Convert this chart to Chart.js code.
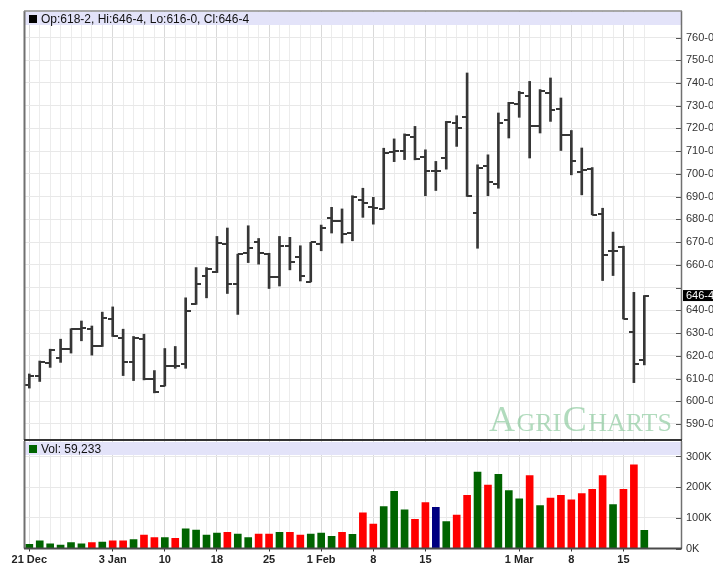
<!DOCTYPE html>
<html>
<head>
<meta charset="utf-8">
<script src="https://cdn.jsdelivr.net/npm/chart.js@4.4.1/dist/chart.umd.min.js"></script>
<style>
  body { margin: 0; background: #fff; width: 713px; height: 563px; overflow: hidden; position: relative; }
  canvas { position: absolute; left: 0; }
  #price { top: 0; }
  #vol { top: 441px; }
</style>
</head>
<body>
<canvas id="price" width="713" height="441"></canvas>
<canvas id="vol" width="713" height="122"></canvas>
<script>
// tanggal minggu pada sumbu bawah (indeks bar + teks)
const tickAt = [0, 8, 13, 18, 23, 28, 33, 38, 47, 52, 57];
const tickText = ['21 Dec', '3 Jan', '10', '18', '25', '1 Feb', '8', '15', '1 Mar', '8', '15'];

// harga harian (sen/bushel)
const openP = [607.2, 610.9, 616.8, 618.9, 622.9, 631.7, 631.7, 624.4, 636.0, 628.0,
  617.1, 627.6, 609.6, 606.9, 615.7, 616.4, 642.8, 655.1, 656.9, 669.1,
  651.5, 665.4, 669.9, 664.7, 654.7, 668.4, 663.5, 652.5, 669.1, 680.4,
  679.4, 674.0, 688.5, 685.6, 684.6, 709.6, 709.9, 716.2, 707.4, 701.1,
  707.0, 722.4, 725.0, 682.7, 703.3, 695.7, 723.6, 730.9, 734.4, 720.9,
  735.6, 728.5, 717.2, 700.8, 702.1, 682.4, 666.0, 667.8, 630.3, 618.25];
const highP = [612.0, 617.7, 622.9, 627.3, 631.9, 635.3, 633.1, 639.2, 641.5, 631.7,
  628.5, 629.5, 613.5, 623.2, 624.1, 645.5, 658.8, 658.8, 672.5, 676.2,
  664.7, 677.2, 671.6, 665.1, 672.5, 672.1, 668.4, 669.9, 677.5, 685.3,
  684.6, 690.4, 693.7, 689.7, 711.3, 715.4, 717.6, 720.9, 710.6, 705.5,
  723.1, 725.6, 744.4, 704.0, 708.4, 726.8, 731.5, 736.3, 740.7, 737.1,
  742.2, 733.4, 719.1, 711.4, 702.8, 684.9, 674.4, 668.2, 647.9, 646.5];
const lowP = [605.8, 608.7, 614.9, 617.1, 621.2, 626.6, 620.3, 624.1, 628.5, 611.3,
  609.1, 609.4, 603.7, 606.7, 614.5, 614.5, 642.6, 645.5, 656.6, 647.4,
  638.2, 661.0, 660.3, 649.6, 650.7, 657.8, 652.9, 652.5, 666.2, 674.0,
  669.6, 670.6, 680.9, 677.9, 684.6, 705.4, 706.3, 706.2, 690.4, 692.7,
  702.1, 712.1, 690.1, 667.3, 690.4, 693.7, 715.8, 724.9, 707.0, 718.0,
  723.1, 710.3, 699.6, 690.8, 682.0, 653.1, 655.3, 636.2, 608.2, 616.0];
const closeP = [610.9, 617.1, 622.4, 623.2, 631.7, 632.4, 624.4, 636.7, 628.8, 617.1,
  628.0, 609.9, 604.0, 615.7, 615.4, 639.7, 651.6, 658.2, 669.6, 651.5,
  664.7, 667.2, 665.1, 654.7, 668.1, 661.3, 655.1, 669.9, 676.2, 679.4,
  673.5, 690.0, 687.2, 684.9, 709.1, 709.9, 717.2, 706.5, 701.1, 701.1,
  722.8, 720.2, 690.1, 702.6, 696.4, 722.4, 731.2, 735.6, 721.2, 736.3,
  728.3, 717.2, 705.8, 701.8, 682.0, 664.4, 666.3, 636.2, 616.3, 646.5];

// volume (ribuan kontrak) dan arah perubahan harga: 1 naik, -1 turun, 0 tetap
const volK = [14, 25, 15, 11, 19, 15, 19, 21, 25, 25,
  29, 44, 36, 36, 33, 64, 60, 44, 50, 53,
  47, 36, 47, 47, 53, 53, 44, 47, 50, 40,
  53, 46, 116, 80, 137, 186, 126, 95, 150, 134,
  88, 109, 173, 249, 207, 242, 189, 162, 238, 140,
  164, 173, 159, 179, 193, 238, 143, 193, 273, 59.233];
const volDir = [1, 1, 1, 1, 1, 1, -1, 1, -1, -1,
  1, -1, -1, 1, -1, 1, 1, 1, 1, -1,
  1, 1, -1, -1, 1, -1, -1, 1, 1, 1,
  -1, 1, -1, -1, 1, 1, 1, -1, -1, 0,
  1, -1, -1, 1, -1, 1, 1, 1, -1, 1,
  -1, -1, -1, -1, -1, -1, 1, -1, -1, 1];

const headerText = 'Op:618-2, Hi:646-4, Lo:616-0, Cl:646-4';
const volText = 'Vol: 59,233';
const lastText = '646-4';

const X_MIN = -0.51, X_MAX = 62.52;
const FONT = 'Liberation Sans, Arial, sans-serif';
const BAR_CLR = '#363636';

function tickImg(side) {
  const c = document.createElement('canvas');
  c.width = 10; c.height = 2;
  const g = c.getContext('2d');
  g.fillStyle = BAR_CLR;
  g.fillRect(side < 0 ? 0 : 5, 0, 5, 2);
  return c;
}

const gridX = c => tickAt.includes(c.tick && c.tick.value) ? '#d9d9d9' : '#ececec';

// sumbu kanan lebar tetap, tanpa ruang tambahan atas/bawah
function fitRight(s) {
  s.width = 32;
  s.paddingTop = 0;
  s.paddingBottom = 0;
}

// garis tepi, pita judul, watermark
const panelPlugin = {
  id: 'panel',
  beforeDatasetsDraw(chart, args, opts) {
    const ctx = chart.ctx, a = chart.chartArea;
    ctx.save();
    if (opts.mark) {
      ctx.fillStyle = 'rgba(125, 195, 145, 0.6)';
      ctx.textBaseline = 'alphabetic';
      let x = 489;
      const parts = [['A', 36], ['GRI', 26], ['C', 36], ['HARTS', 26]];
      parts.forEach(p => {
        ctx.font = p[1] + 'px Liberation Serif, serif';
        ctx.fillText(p[0], x, 431);
        x += ctx.measureText(p[0]).width + 1.5;
      });
    }
    ctx.fillStyle = '#e3e3f9';
    ctx.fillRect(a.left + 1, a.top + 1, a.right - a.left - 1, 13);
    ctx.fillStyle = opts.sq;
    ctx.fillRect(29, a.top + 4, 8, 8);
    ctx.fillStyle = '#111';
    ctx.font = '12px ' + FONT;
    ctx.textBaseline = 'middle';
    ctx.fillText(opts.text, 41, a.top + 8.5);
    ctx.restore();
  },
  afterDraw(chart, args, opts) {
    const ctx = chart.ctx, a = chart.chartArea, y = chart.scales.y;
    ctx.save();
    ctx.strokeStyle = '#555';
    ctx.lineWidth = 1;
    y.ticks.forEach(t => {
      const py = Math.round(y.getPixelForValue(t.value)) + 0.5;
      ctx.beginPath(); ctx.moveTo(a.right - 5, py); ctx.lineTo(a.right, py); ctx.stroke();
    });
    ctx.strokeStyle = '#707070'; ctx.lineWidth = 2;
    ctx.beginPath(); ctx.moveTo(24.5, opts.top ? a.top : 0); ctx.lineTo(24.5, a.bottom); ctx.stroke();
    ctx.lineWidth = 1.5;
    ctx.beginPath(); ctx.moveTo(a.right + 0.5, opts.top ? a.top : 0); ctx.lineTo(a.right + 0.5, a.bottom); ctx.stroke();
    if (opts.top) {
      ctx.strokeStyle = '#8a8a8a';
      ctx.beginPath(); ctx.moveTo(24, a.top); ctx.lineTo(a.right + 1, a.top); ctx.stroke();
      ctx.strokeStyle = '#333'; ctx.lineWidth = 2;
      ctx.beginPath(); ctx.moveTo(24, a.bottom); ctx.lineTo(a.right + 1, a.bottom); ctx.stroke();
      // kotak harga terakhir
      const py = y.getPixelForValue(closeP[closeP.length - 1]);
      ctx.fillStyle = '#000';
      ctx.fillRect(a.right + 2, py - 5.5, 40, 11);
      ctx.fillStyle = '#fff';
      ctx.font = '11px ' + FONT;
      ctx.textBaseline = 'middle';
      ctx.fillText(lastText, a.right + 5, py + 0.5);
    } else {
      ctx.strokeStyle = '#4a4a4a'; ctx.lineWidth = 2;
      ctx.beginPath(); ctx.moveTo(24, a.bottom); ctx.lineTo(a.right + 1, a.bottom); ctx.stroke();
    }
    ctx.restore();
  }
};

const idx = highP.map((_, i) => i);

new Chart(document.getElementById('price'), {
  type: 'bar',
  data: {
    datasets: [
      {
        type: 'bar',
        data: idx.map(i => ({ x: i, y: [lowP[i], highP[i]] })),
        backgroundColor: BAR_CLR,
        barThickness: 2,
        order: 2
      },
      {
        type: 'line', showLine: false,
        data: idx.map(i => ({ x: i, y: openP[i] })),
        pointStyle: tickImg(-1), pointRadius: 3, order: 1
      },
      {
        type: 'line', showLine: false,
        data: idx.map(i => ({ x: i, y: closeP[i] })),
        pointStyle: tickImg(1), pointRadius: 3, order: 1
      }
    ]
  },
  options: {
    responsive: false, animation: false, devicePixelRatio: 1,
    layout: { autoPadding: false, padding: { left: 24, top: 11, right: 0, bottom: 1 } },
    plugins: {
      legend: { display: false }, tooltip: { enabled: false },
      panel: { text: headerText, sq: '#000', mark: true, top: true }
    },
    scales: {
      x: {
        type: 'linear', min: X_MIN, max: X_MAX, offset: false,
        afterBuildTicks: s => { s.ticks = idx.map(i => ({ value: i })); },
        afterFit: s => { s.height = 0; s.paddingLeft = 0; s.paddingRight = 0; },
        ticks: { display: false },
        grid: { color: gridX, drawTicks: false, offset: false },
        border: { display: false }
      },
      y: {
        position: 'right', min: 582.96, max: 771.66,
        afterBuildTicks: s => { s.ticks = s.ticks.filter(t => t.value >= 590 && t.value <= 760 && Math.round(t.value) % 10 === 0); },
        afterFit: fitRight,
        ticks: {
          stepSize: 10, padding: 5, color: '#333', font: { family: FONT, size: 11 },
          callback: v => Math.round(v) === 650 ? '' : Math.round(v) + '-0'
        },
        grid: { color: '#e8e8e8', drawTicks: false },
        border: { display: false }
      }
    }
  },
  plugins: [panelPlugin]
});

new Chart(document.getElementById('vol'), {
  type: 'bar',
  data: {
    datasets: [{
      data: idx.map(i => ({ x: i, y: volK[i] })),
      backgroundColor: volDir.map(d => d > 0 ? '#006400' : d < 0 ? '#ff0000' : '#000080'),
      barThickness: 7
    }]
  },
  options: {
    responsive: false, animation: false, devicePixelRatio: 1,
    layout: { autoPadding: false, padding: { left: 24, top: 0, right: 0, bottom: 0 } },
    plugins: {
      legend: { display: false }, tooltip: { enabled: false },
      panel: { text: volText, sq: '#006400', mark: false, top: false }
    },
    scales: {
      x: {
        type: 'linear', min: X_MIN, max: X_MAX, offset: false,
        afterBuildTicks: s => { s.ticks = idx.map(i => ({ value: i })); },
        afterFit: s => { s.height = 14.5; s.paddingLeft = 0; s.paddingRight = 0; },
        ticks: {
          autoSkip: false, maxRotation: 0, minRotation: 0, padding: 2, color: '#222',
          font: { family: FONT, size: 11, weight: 'bold' },
          callback: v => { const k = tickAt.indexOf(v); return k < 0 ? '' : tickText[k]; }
        },
        grid: {
          color: gridX, tickLength: 3, offset: false,
          tickColor: c => tickAt.includes(c.tick && c.tick.value) ? '#333' : 'rgba(0,0,0,0)'
        },
        border: { display: false }
      },
      y: {
        position: 'right', min: 0, max: 350.5,
        afterBuildTicks: s => { s.ticks = s.ticks.filter(t => t.value <= 300 && Math.round(t.value) % 100 === 0); },
        afterFit: fitRight,
        ticks: {
          stepSize: 100, padding: 5, color: '#333', font: { family: FONT, size: 11 },
          callback: v => Math.round(v) + 'K'
        },
        grid: { color: '#e8e8e8', drawTicks: false },
        border: { display: false }
      }
    }
  },
  plugins: [panelPlugin]
});
</script>
</body>
</html>
